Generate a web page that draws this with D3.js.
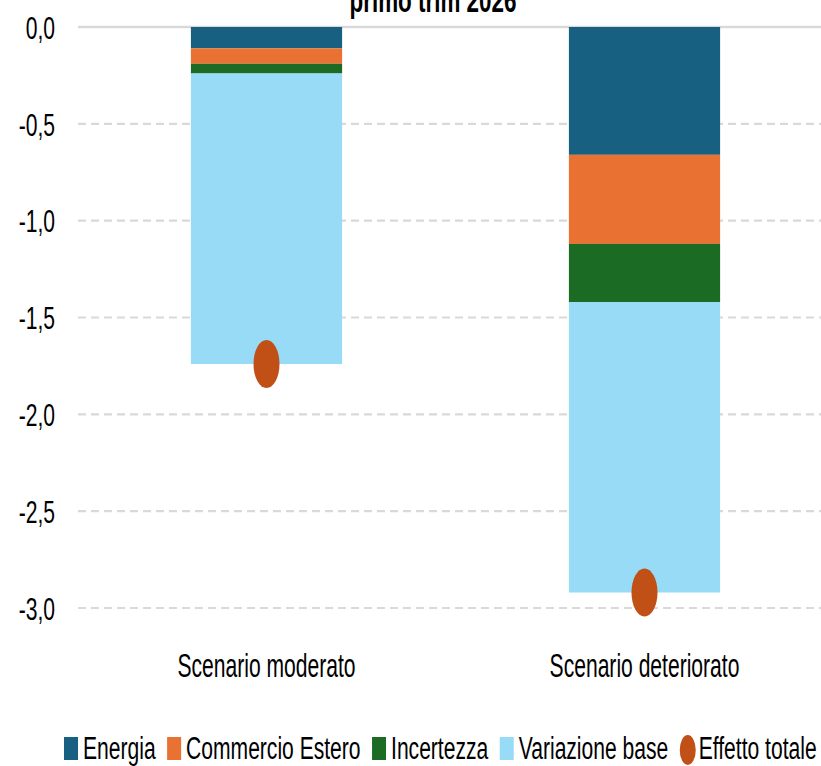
<!DOCTYPE html>
<html>
<head>
<meta charset="utf-8">
<script src="https://cdn.jsdelivr.net/npm/d3@7"></script>
<style>
  body { margin: 0; background: #fff; }
  svg { display: block; font-family: "Liberation Sans", Arial, sans-serif; }
</style>
</head>
<body>
<div id="chart"></div>
<script>
// values (percentage points)
const categories = ["Scenario moderato", "Scenario deteriorato"];
const energia = [-0.11, -0.66];
const commercioEstero = [-0.08, -0.46];
const incertezza = [-0.05, -0.30];
const variazioneBase = [-1.50, -1.50];
const effettoTotale = [-1.74, -2.92];
const yTicks = [0, -0.5, -1.0, -1.5, -2.0, -2.5, -3.0];

const seriesNames = ["Energia", "Commercio Estero", "Incertezza", "Variazione base"];
const seriesValues = [energia, commercioEstero, incertezza, variazioneBase];
const colors = ["#176082", "#E97132", "#1B6B25", "#97DBF7"];
const dotColor = "#C15016";

const width = 821, height = 766;
const sx = 0.68; // text is drawn narrow, like the original
const sy = 1.08;
const fontSize = 31;

const rows = categories.map((c, i) => {
  const r = { cat: c };
  seriesNames.forEach((s, j) => r[s] = seriesValues[j][i]);
  r.total = effettoTotale[i];
  return r;
});

const svg = d3.select("#chart").append("svg")
  .attr("width", width)
  .attr("height", height);

const x = d3.scaleBand()
  .domain(categories)
  .range([77.5, 833.5])
  .paddingInner(0.6)
  .paddingOuter(0.3);

const y = d3.scaleLinear()
  .domain([0, -3])
  .range([27, 608]);

const fmt = d3.formatLocale({ decimal: ",", thousands: ".", grouping: [3], currency: ["", "€"], minus: "-" }).format(".1f");

// gridlines
svg.append("g")
  .selectAll("line")
  .data(yTicks)
  .join("line")
  .attr("x1", 78)
  .attr("x2", width)
  .attr("y1", d => y(d))
  .attr("y2", d => y(d))
  .attr("stroke", "#d9d9d9")
  .attr("stroke-width", d => d === 0 ? 2.5 : 2.2)
  .attr("stroke-dasharray", d => d === 0 ? null : "8,5");

// y axis labels
const yAxis = svg.append("g")
  .attr("transform", "translate(55,0)")
  .call(d3.axisLeft(y).tickValues(yTicks).tickFormat(fmt).tickSize(0).tickPadding(0));
yAxis.select(".domain").remove();
yAxis.selectAll("text")
  .attr("font-size", fontSize)
  .attr("font-family", "Liberation Sans, Arial, sans-serif")
  .attr("fill", "#000")
  .attr("dy", "0.35em")
  .attr("transform", `scale(${sx},1.04)`);

// stacked bars
const stack = d3.stack()
  .keys(seriesNames)
  .offset(d3.stackOffsetDiverging);
const stacked = stack(rows);

svg.append("g")
  .selectAll("g")
  .data(stacked)
  .join("g")
  .attr("fill", (d, i) => colors[i])
  .selectAll("rect")
  .data(d => d)
  .join("rect")
  .attr("x", d => x(d.data.cat))
  .attr("width", x.bandwidth())
  .attr("y", d => Math.min(y(d[0]), y(d[1])))
  .attr("height", d => Math.abs(y(d[0]) - y(d[1])));

// total effect dots
svg.append("g")
  .selectAll("ellipse")
  .data(rows)
  .join("ellipse")
  .attr("cx", d => x(d.cat) + x.bandwidth() / 2)
  .attr("cy", d => y(d.total))
  .attr("rx", 13)
  .attr("ry", 24)
  .attr("fill", dotColor);

// category labels
svg.append("g")
  .selectAll("text")
  .data(categories)
  .join("text")
  .attr("transform", d => `translate(${x(d) + x.bandwidth() / 2},677) scale(${sx},${sy})`)
  .attr("text-anchor", "middle")
  .attr("font-size", fontSize)
  .text(d => d);

// title (cut at the top, as in the reference)
svg.append("text")
  .attr("transform", `translate(433,12) scale(${sx},1)`)
  .attr("text-anchor", "middle")
  .attr("font-size", 33)
  .attr("font-weight", "bold")
  .text("primo trim 2026");

// legend
const legendItems = seriesNames.map((s, i) => ({ name: s, color: colors[i], type: "rect" }))
  .concat([{ name: "Effetto totale", color: dotColor, type: "dot" }]);

const legend = svg.append("g");
let lx = 64;
legendItems.forEach(item => {
  const g = legend.append("g");
  if (item.type === "rect") {
    g.append("rect")
      .attr("x", lx).attr("y", 737)
      .attr("width", 14).attr("height", 23)
      .attr("fill", item.color);
  } else {
    g.append("ellipse")
      .attr("cx", lx + 8).attr("cy", 750)
      .attr("rx", 8).attr("ry", 15)
      .attr("fill", item.color);
  }
  const t = g.append("text")
    .attr("transform", `translate(${lx + 19},759) scale(${sx},1.04)`)
    .attr("font-size", fontSize)
    .text(item.name);
  const w = t.node().getComputedTextLength() * sx;
  lx += 19 + w + 11.5;
});
</script>
</body>
</html>
